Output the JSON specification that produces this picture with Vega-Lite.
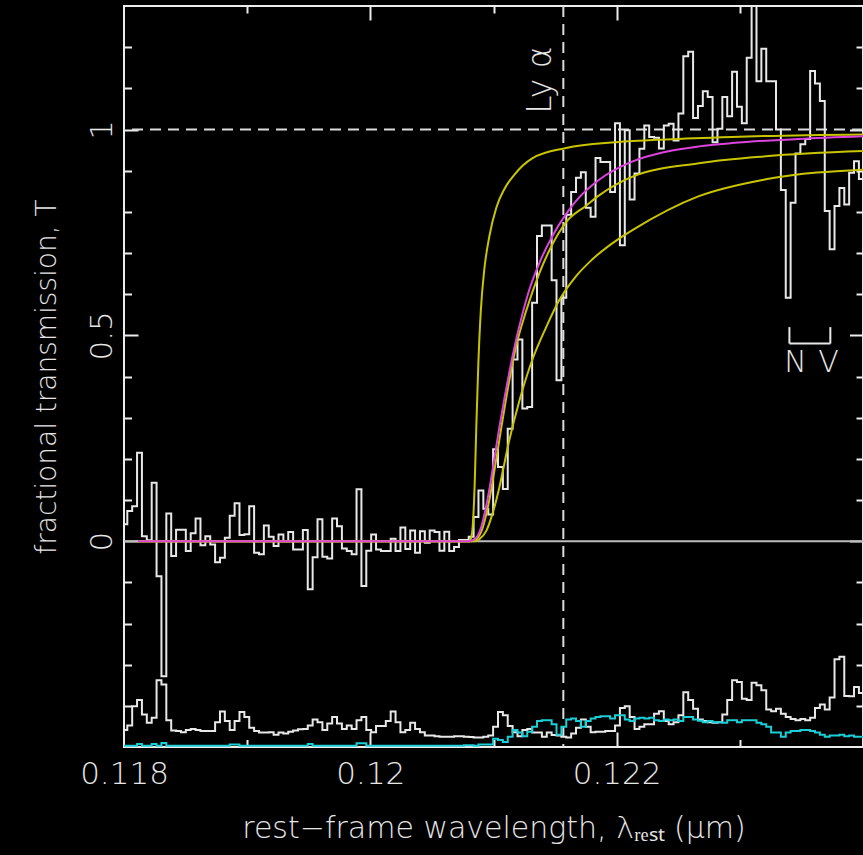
{
  "$schema": "https://vega.github.io/schema/vega-lite/v6.json",
  "width": 739,
  "height": 741,
  "autosize": {"type": "none"},
  "padding": {"left": 124, "top": 6, "right": 0, "bottom": 108},
  "background": "#000000",
  "config": {
    "view": {"stroke": "#ececec", "strokeWidth": 2},
    "axis": {
      "domain": false, "grid": false,
      "labelFont": "DejaVu Sans", "labelFontSize": 31, "labelFontWeight": 200, "labelColor": "#e6e6e6",
      "titleFont": "DejaVu Sans", "titleFontSize": 28, "titleFontWeight": 200, "titleColor": "#e6e6e6",
      "tickColor": "#ececec", "tickWidth": 2,
      "labelFlush": false, "labelOverlap": false, "labelBound": false
    },
    "text": {"font": "DejaVu Sans", "fontWeight": 200}
  },
  "datasets": {
    "spectrum": [
      {"lam": 0.1179674, "T": 0.041, "noise": -0.459, "sky": -0.497},
      {"lam": 0.1180070, "T": 0.041, "noise": -0.459, "sky": -0.497},
      {"lam": 0.1180466, "T": 0.073, "noise": -0.448, "sky": -0.497},
      {"lam": 0.1180862, "T": 0.085, "noise": -0.401, "sky": -0.497},
      {"lam": 0.1181258, "T": 0.215, "noise": -0.386, "sky": -0.493},
      {"lam": 0.1181654, "T": 0.012, "noise": -0.421, "sky": -0.497},
      {"lam": 0.1182050, "T": 0.002, "noise": -0.441, "sky": -0.497},
      {"lam": 0.1182446, "T": 0.142, "noise": -0.429, "sky": -0.493},
      {"lam": 0.1182842, "T": -0.085, "noise": -0.338, "sky": -0.497},
      {"lam": 0.1183238, "T": -0.328, "noise": -0.348, "sky": -0.490},
      {"lam": 0.1183634, "T": 0.067, "noise": -0.435, "sky": -0.497},
      {"lam": 0.1184030, "T": -0.036, "noise": -0.460, "sky": -0.497},
      {"lam": 0.1184426, "T": 0.028, "noise": -0.461, "sky": -0.497},
      {"lam": 0.1184822, "T": 0.028, "noise": -0.464, "sky": -0.497},
      {"lam": 0.1185218, "T": -0.024, "noise": -0.459, "sky": -0.497},
      {"lam": 0.1185614, "T": 0.019, "noise": -0.456, "sky": -0.497},
      {"lam": 0.1186010, "T": 0.055, "noise": -0.459, "sky": -0.497},
      {"lam": 0.1186406, "T": -0.010, "noise": -0.461, "sky": -0.497},
      {"lam": 0.1186802, "T": 0.012, "noise": -0.461, "sky": -0.497},
      {"lam": 0.1187198, "T": -0.008, "noise": -0.461, "sky": -0.497},
      {"lam": 0.1187594, "T": -0.051, "noise": -0.440, "sky": -0.497},
      {"lam": 0.1187990, "T": -0.040, "noise": -0.414, "sky": -0.497},
      {"lam": 0.1188386, "T": 0.008, "noise": -0.437, "sky": -0.497},
      {"lam": 0.1188782, "T": 0.062, "noise": -0.459, "sky": -0.494},
      {"lam": 0.1189178, "T": 0.092, "noise": -0.437, "sky": -0.494},
      {"lam": 0.1189574, "T": 0.015, "noise": -0.415, "sky": -0.497},
      {"lam": 0.1189970, "T": 0.017, "noise": -0.427, "sky": -0.497},
      {"lam": 0.1190366, "T": 0.085, "noise": -0.453, "sky": -0.497},
      {"lam": 0.1190762, "T": -0.028, "noise": -0.461, "sky": -0.497},
      {"lam": 0.1191158, "T": -0.032, "noise": -0.465, "sky": -0.497},
      {"lam": 0.1191554, "T": 0.038, "noise": -0.465, "sky": -0.497},
      {"lam": 0.1191950, "T": 0.011, "noise": -0.464, "sky": -0.497},
      {"lam": 0.1192346, "T": -0.012, "noise": -0.470, "sky": -0.497},
      {"lam": 0.1192742, "T": 0.016, "noise": -0.465, "sky": -0.497},
      {"lam": 0.1193138, "T": 0.000, "noise": -0.467, "sky": -0.497},
      {"lam": 0.1193534, "T": 0.022, "noise": -0.463, "sky": -0.497},
      {"lam": 0.1193930, "T": -0.020, "noise": -0.460, "sky": -0.497},
      {"lam": 0.1194326, "T": -0.020, "noise": -0.457, "sky": -0.497},
      {"lam": 0.1194722, "T": 0.027, "noise": -0.456, "sky": -0.497},
      {"lam": 0.1195118, "T": -0.117, "noise": -0.448, "sky": -0.493},
      {"lam": 0.1195514, "T": -0.039, "noise": -0.433, "sky": -0.497},
      {"lam": 0.1195910, "T": 0.053, "noise": -0.440, "sky": -0.497},
      {"lam": 0.1196306, "T": -0.038, "noise": -0.459, "sky": -0.497},
      {"lam": 0.1196702, "T": -0.042, "noise": -0.443, "sky": -0.497},
      {"lam": 0.1197098, "T": 0.055, "noise": -0.427, "sky": -0.497},
      {"lam": 0.1197494, "T": 0.036, "noise": -0.443, "sky": -0.497},
      {"lam": 0.1197890, "T": -0.018, "noise": -0.456, "sky": -0.497},
      {"lam": 0.1198286, "T": -0.024, "noise": -0.448, "sky": -0.497},
      {"lam": 0.1198682, "T": -0.032, "noise": -0.456, "sky": -0.497},
      {"lam": 0.1199078, "T": 0.126, "noise": -0.435, "sky": -0.491},
      {"lam": 0.1199474, "T": -0.109, "noise": -0.427, "sky": -0.491},
      {"lam": 0.1199870, "T": -0.023, "noise": -0.459, "sky": -0.497},
      {"lam": 0.1200266, "T": 0.016, "noise": -0.464, "sky": -0.497},
      {"lam": 0.1200662, "T": -0.020, "noise": -0.449, "sky": -0.497},
      {"lam": 0.1201058, "T": -0.024, "noise": -0.449, "sky": -0.497},
      {"lam": 0.1201454, "T": -0.024, "noise": -0.437, "sky": -0.497},
      {"lam": 0.1201850, "T": 0.006, "noise": -0.414, "sky": -0.497},
      {"lam": 0.1202246, "T": -0.024, "noise": -0.440, "sky": -0.497},
      {"lam": 0.1202642, "T": 0.033, "noise": -0.464, "sky": -0.497},
      {"lam": 0.1203038, "T": -0.019, "noise": -0.459, "sky": -0.497},
      {"lam": 0.1203434, "T": 0.026, "noise": -0.441, "sky": -0.497},
      {"lam": 0.1203830, "T": -0.028, "noise": -0.456, "sky": -0.497},
      {"lam": 0.1204226, "T": 0.024, "noise": -0.464, "sky": -0.497},
      {"lam": 0.1204622, "T": -0.004, "noise": -0.472, "sky": -0.497},
      {"lam": 0.1205018, "T": 0.026, "noise": -0.472, "sky": -0.497},
      {"lam": 0.1205414, "T": 0.022, "noise": -0.474, "sky": -0.497},
      {"lam": 0.1205810, "T": -0.023, "noise": -0.475, "sky": -0.497},
      {"lam": 0.1206206, "T": 0.023, "noise": -0.475, "sky": -0.497},
      {"lam": 0.1206602, "T": -0.024, "noise": -0.475, "sky": -0.497},
      {"lam": 0.1206998, "T": -0.014, "noise": -0.474, "sky": -0.497},
      {"lam": 0.1207394, "T": 0.003, "noise": -0.474, "sky": -0.497},
      {"lam": 0.1207790, "T": 0.003, "noise": -0.475, "sky": -0.496},
      {"lam": 0.1208186, "T": 0.011, "noise": -0.476, "sky": -0.496},
      {"lam": 0.1208582, "T": 0.059, "noise": -0.477, "sky": -0.497},
      {"lam": 0.1208978, "T": 0.123, "noise": -0.477, "sky": -0.494},
      {"lam": 0.1209374, "T": 0.079, "noise": -0.475, "sky": -0.494},
      {"lam": 0.1209770, "T": 0.065, "noise": -0.472, "sky": -0.494},
      {"lam": 0.1210166, "T": 0.223, "noise": -0.451, "sky": -0.480},
      {"lam": 0.1210562, "T": 0.180, "noise": -0.415, "sky": -0.483},
      {"lam": 0.1210958, "T": 0.127, "noise": -0.423, "sky": -0.488},
      {"lam": 0.1211354, "T": 0.273, "noise": -0.449, "sky": -0.475},
      {"lam": 0.1211750, "T": 0.441, "noise": -0.464, "sky": -0.459},
      {"lam": 0.1212146, "T": 0.490, "noise": -0.474, "sky": -0.465},
      {"lam": 0.1212542, "T": 0.322, "noise": -0.459, "sky": -0.474},
      {"lam": 0.1212938, "T": 0.326, "noise": -0.456, "sky": -0.463},
      {"lam": 0.1213334, "T": 0.579, "noise": -0.465, "sky": -0.451},
      {"lam": 0.1213730, "T": 0.741, "noise": -0.465, "sky": -0.437},
      {"lam": 0.1214126, "T": 0.767, "noise": -0.475, "sky": -0.435},
      {"lam": 0.1214522, "T": 0.767, "noise": -0.465, "sky": -0.435},
      {"lam": 0.1214918, "T": 0.634, "noise": -0.471, "sky": -0.445},
      {"lam": 0.1215314, "T": 0.391, "noise": -0.472, "sky": -0.470},
      {"lam": 0.1215710, "T": 0.591, "noise": -0.475, "sky": -0.451},
      {"lam": 0.1216106, "T": 0.793, "noise": -0.477, "sky": -0.433},
      {"lam": 0.1216502, "T": 0.848, "noise": -0.467, "sky": -0.431},
      {"lam": 0.1216898, "T": 0.883, "noise": -0.453, "sky": -0.437},
      {"lam": 0.1217294, "T": 0.896, "noise": -0.433, "sky": -0.451},
      {"lam": 0.1217690, "T": 0.810, "noise": -0.451, "sky": -0.437},
      {"lam": 0.1218086, "T": 0.788, "noise": -0.464, "sky": -0.431},
      {"lam": 0.1218482, "T": 0.931, "noise": -0.463, "sky": -0.427},
      {"lam": 0.1218878, "T": 0.921, "noise": -0.463, "sky": -0.425},
      {"lam": 0.1219274, "T": 0.921, "noise": -0.461, "sky": -0.425},
      {"lam": 0.1219670, "T": 0.848, "noise": -0.461, "sky": -0.431},
      {"lam": 0.1220066, "T": 1.015, "noise": -0.448, "sky": -0.423},
      {"lam": 0.1220462, "T": 0.719, "noise": -0.405, "sky": -0.423},
      {"lam": 0.1220858, "T": 0.998, "noise": -0.401, "sky": -0.433},
      {"lam": 0.1221254, "T": 0.830, "noise": -0.427, "sky": -0.437},
      {"lam": 0.1221650, "T": 0.893, "noise": -0.456, "sky": -0.431},
      {"lam": 0.1222046, "T": 0.953, "noise": -0.451, "sky": -0.429},
      {"lam": 0.1222442, "T": 1.010, "noise": -0.445, "sky": -0.431},
      {"lam": 0.1222838, "T": 0.982, "noise": -0.445, "sky": -0.429},
      {"lam": 0.1223234, "T": 0.980, "noise": -0.419, "sky": -0.435},
      {"lam": 0.1223630, "T": 0.954, "noise": -0.413, "sky": -0.437},
      {"lam": 0.1224026, "T": 1.010, "noise": -0.437, "sky": -0.433},
      {"lam": 0.1224422, "T": 1.014, "noise": -0.445, "sky": -0.435},
      {"lam": 0.1224818, "T": 0.973, "noise": -0.440, "sky": -0.433},
      {"lam": 0.1225214, "T": 1.039, "noise": -0.423, "sky": -0.437},
      {"lam": 0.1225610, "T": 1.178, "noise": -0.367, "sky": -0.427},
      {"lam": 0.1226006, "T": 1.189, "noise": -0.386, "sky": -0.427},
      {"lam": 0.1226402, "T": 1.028, "noise": -0.407, "sky": -0.433},
      {"lam": 0.1226798, "T": 1.057, "noise": -0.433, "sky": -0.436},
      {"lam": 0.1227194, "T": 1.093, "noise": -0.437, "sky": -0.440},
      {"lam": 0.1227590, "T": 1.079, "noise": -0.440, "sky": -0.437},
      {"lam": 0.1227986, "T": 0.969, "noise": -0.441, "sky": -0.440},
      {"lam": 0.1228382, "T": 1.002, "noise": -0.440, "sky": -0.440},
      {"lam": 0.1228778, "T": 1.079, "noise": -0.421, "sky": -0.441},
      {"lam": 0.1229174, "T": 1.032, "noise": -0.386, "sky": -0.435},
      {"lam": 0.1229570, "T": 1.140, "noise": -0.338, "sky": -0.435},
      {"lam": 0.1229966, "T": 1.055, "noise": -0.342, "sky": -0.440},
      {"lam": 0.1230362, "T": 1.015, "noise": -0.383, "sky": -0.435},
      {"lam": 0.1230758, "T": 1.174, "noise": -0.386, "sky": -0.435},
      {"lam": 0.1231154, "T": 1.450, "noise": -0.344, "sky": -0.435},
      {"lam": 0.1231550, "T": 1.117, "noise": -0.350, "sky": -0.441},
      {"lam": 0.1231946, "T": 1.196, "noise": -0.362, "sky": -0.445},
      {"lam": 0.1232342, "T": 1.117, "noise": -0.409, "sky": -0.451},
      {"lam": 0.1232738, "T": 1.117, "noise": -0.413, "sky": -0.465},
      {"lam": 0.1233134, "T": 1.000, "noise": -0.407, "sky": -0.465},
      {"lam": 0.1233530, "T": 0.853, "noise": -0.419, "sky": -0.475},
      {"lam": 0.1233926, "T": 0.591, "noise": -0.427, "sky": -0.465},
      {"lam": 0.1234322, "T": 0.822, "noise": -0.432, "sky": -0.461},
      {"lam": 0.1234718, "T": 0.942, "noise": -0.435, "sky": -0.461},
      {"lam": 0.1235114, "T": 0.964, "noise": -0.432, "sky": -0.459},
      {"lam": 0.1235510, "T": 0.977, "noise": -0.435, "sky": -0.459},
      {"lam": 0.1235906, "T": 1.142, "noise": -0.429, "sky": -0.461},
      {"lam": 0.1236302, "T": 1.112, "noise": -0.405, "sky": -0.465},
      {"lam": 0.1236698, "T": 1.069, "noise": -0.397, "sky": -0.470},
      {"lam": 0.1237094, "T": 0.802, "noise": -0.409, "sky": -0.475},
      {"lam": 0.1237490, "T": 0.709, "noise": -0.380, "sky": -0.472},
      {"lam": 0.1237886, "T": 0.814, "noise": -0.287, "sky": -0.472},
      {"lam": 0.1238282, "T": 0.858, "noise": -0.281, "sky": -0.470},
      {"lam": 0.1238678, "T": 0.818, "noise": -0.376, "sky": -0.474},
      {"lam": 0.1239074, "T": 0.895, "noise": -0.377, "sky": -0.472},
      {"lam": 0.1239470, "T": 0.923, "noise": -0.354, "sky": -0.475},
      {"lam": 0.1239866, "T": 0.880, "noise": -0.369, "sky": -0.475},
      {"lam": 0.1240262, "T": 0.880, "noise": -0.369, "sky": -0.475}
    ],
    "models": [
      {"curve": "fit", "lam": 0.1181135, "T": 0},
      {"curve": "fit", "lam": 0.1208039, "T": 0},
      {"curve": "fit", "lam": 0.1208363, "T": 0.003},
      {"curve": "fit", "lam": 0.1208687, "T": 0.012},
      {"curve": "fit", "lam": 0.1209011, "T": 0.035},
      {"curve": "fit", "lam": 0.1209335, "T": 0.075},
      {"curve": "fit", "lam": 0.1209660, "T": 0.125},
      {"curve": "fit", "lam": 0.1210065, "T": 0.200},
      {"curve": "fit", "lam": 0.1210470, "T": 0.275},
      {"curve": "fit", "lam": 0.1210875, "T": 0.345},
      {"curve": "fit", "lam": 0.1211280, "T": 0.410},
      {"curve": "fit", "lam": 0.1211767, "T": 0.480},
      {"curve": "fit", "lam": 0.1212334, "T": 0.550},
      {"curve": "fit", "lam": 0.1212901, "T": 0.610},
      {"curve": "fit", "lam": 0.1213711, "T": 0.675},
      {"curve": "fit", "lam": 0.1214765, "T": 0.740},
      {"curve": "fit", "lam": 0.1215899, "T": 0.795},
      {"curve": "fit", "lam": 0.1216953, "T": 0.835},
      {"curve": "fit", "lam": 0.1218574, "T": 0.878},
      {"curve": "fit", "lam": 0.1221248, "T": 0.922},
      {"curve": "fit", "lam": 0.1224003, "T": 0.946},
      {"curve": "fit", "lam": 0.1226677, "T": 0.959},
      {"curve": "fit", "lam": 0.1229352, "T": 0.967},
      {"curve": "fit", "lam": 0.1234781, "T": 0.977},
      {"curve": "fit", "lam": 0.1240454, "T": 0.984},
      {"curve": "alt1", "lam": 0.1181135, "T": 0},
      {"curve": "alt1", "lam": 0.1208039, "T": 0},
      {"curve": "alt1", "lam": 0.1208201, "T": 0.01},
      {"curve": "alt1", "lam": 0.1208363, "T": 0.06},
      {"curve": "alt1", "lam": 0.1208485, "T": 0.15},
      {"curve": "alt1", "lam": 0.1208606, "T": 0.28},
      {"curve": "alt1", "lam": 0.1208768, "T": 0.43},
      {"curve": "alt1", "lam": 0.1208971, "T": 0.56},
      {"curve": "alt1", "lam": 0.1209254, "T": 0.66},
      {"curve": "alt1", "lam": 0.1209660, "T": 0.74},
      {"curve": "alt1", "lam": 0.1210227, "T": 0.81},
      {"curve": "alt1", "lam": 0.1210875, "T": 0.855},
      {"curve": "alt1", "lam": 0.1211685, "T": 0.89},
      {"curve": "alt1", "lam": 0.1213144, "T": 0.93},
      {"curve": "alt1", "lam": 0.1215899, "T": 0.955},
      {"curve": "alt1", "lam": 0.1219951, "T": 0.969},
      {"curve": "alt1", "lam": 0.1224003, "T": 0.976},
      {"curve": "alt1", "lam": 0.1229352, "T": 0.982},
      {"curve": "alt1", "lam": 0.1240454, "T": 0.988},
      {"curve": "alt2", "lam": 0.1181135, "T": 0},
      {"curve": "alt2", "lam": 0.1208201, "T": 0},
      {"curve": "alt2", "lam": 0.1208606, "T": 0.005},
      {"curve": "alt2", "lam": 0.1209092, "T": 0.03},
      {"curve": "alt2", "lam": 0.1209660, "T": 0.10},
      {"curve": "alt2", "lam": 0.1210227, "T": 0.20},
      {"curve": "alt2", "lam": 0.1210713, "T": 0.29},
      {"curve": "alt2", "lam": 0.1211280, "T": 0.39},
      {"curve": "alt2", "lam": 0.1211848, "T": 0.475},
      {"curve": "alt2", "lam": 0.1212658, "T": 0.56},
      {"curve": "alt2", "lam": 0.1213711, "T": 0.65},
      {"curve": "alt2", "lam": 0.1214765, "T": 0.72},
      {"curve": "alt2", "lam": 0.1215899, "T": 0.775},
      {"curve": "alt2", "lam": 0.1217520, "T": 0.815},
      {"curve": "alt2", "lam": 0.1218574, "T": 0.840},
      {"curve": "alt2", "lam": 0.1221248, "T": 0.885},
      {"curve": "alt2", "lam": 0.1226677, "T": 0.918},
      {"curve": "alt2", "lam": 0.1232107, "T": 0.935},
      {"curve": "alt2", "lam": 0.1240454, "T": 0.948},
      {"curve": "alt3", "lam": 0.1181135, "T": 0},
      {"curve": "alt3", "lam": 0.1208525, "T": 0},
      {"curve": "alt3", "lam": 0.1208849, "T": 0.005},
      {"curve": "alt3", "lam": 0.1209416, "T": 0.025},
      {"curve": "alt3", "lam": 0.1209903, "T": 0.065},
      {"curve": "alt3", "lam": 0.1210470, "T": 0.13},
      {"curve": "alt3", "lam": 0.1211280, "T": 0.245},
      {"curve": "alt3", "lam": 0.1212091, "T": 0.34},
      {"curve": "alt3", "lam": 0.1213144, "T": 0.44},
      {"curve": "alt3", "lam": 0.1214279, "T": 0.52},
      {"curve": "alt3", "lam": 0.1215332, "T": 0.585},
      {"curve": "alt3", "lam": 0.1216710, "T": 0.644},
      {"curve": "alt3", "lam": 0.1218006, "T": 0.684},
      {"curve": "alt3", "lam": 0.1220194, "T": 0.735},
      {"curve": "alt3", "lam": 0.1221248, "T": 0.755},
      {"curve": "alt3", "lam": 0.1226677, "T": 0.838},
      {"curve": "alt3", "lam": 0.1232107, "T": 0.879},
      {"curve": "alt3", "lam": 0.1240454, "T": 0.903}
    ]
  },
  "layer": [
    {
      "data": {"values": [{"T": 0}]},
      "mark": {"type": "rule", "color": "#bdbdbd", "strokeWidth": 2},
      "encoding": {"y": {"field": "T", "type": "quantitative", "scale": {"domain": [-0.5, 1.3], "nice": false, "zero": false}, "axis": null}}
    },
    {
      "data": {"values": [{"T": 1}]},
      "mark": {"type": "rule", "color": "#dcdcdc", "strokeWidth": 2, "strokeDash": [11, 7]},
      "encoding": {"y": {"field": "T", "type": "quantitative", "scale": {"domain": [-0.5, 1.3], "nice": false, "zero": false}, "axis": null}}
    },
    {
      "data": {"values": [{"lam": 0.121567, "line": "Ly α"}]},
      "mark": {"type": "rule", "color": "#dcdcdc", "strokeWidth": 2, "strokeDash": [11, 7]},
      "encoding": {"x": {"field": "lam", "type": "quantitative", "scale": {"domain": [0.118, 0.124], "nice": false, "zero": false}, "axis": null}}
    },
    {
      "data": {"name": "spectrum"},
      "mark": {"type": "line", "interpolate": "step", "clip": true, "color": "#e8e8e8", "strokeWidth": 2},
      "encoding": {
        "x": {"field": "lam", "type": "quantitative", "scale": {"domain": [0.118, 0.124], "nice": false, "zero": false},
          "axis": {"orient": "bottom", "values": [0.118, 0.12, 0.122], "ticks": false, "tickSize": 0, "labelPadding": 12,
            "labelExpr": "format(datum.value, '.3~f')", "title": "rest−frame wavelength, λᵣₑₛₜ (μm)", "titleFontSize": 30, "titlePadding": 24}},
        "y": {"field": "T", "type": "quantitative", "scale": {"domain": [-0.5, 1.3], "nice": false, "zero": false},
          "axis": {"orient": "left", "values": [0, 0.5, 1], "ticks": false, "tickSize": 0, "labelAngle": -90, "labelAlign": "center",
            "labelBaseline": "alphabetic", "labelPadding": 13, "labelExpr": "format(datum.value, '~g')",
            "title": "fractional transmission, T", "titlePadding": 25}}
      }
    },
    {
      "data": {"name": "spectrum"},
      "mark": {"type": "line", "interpolate": "step", "clip": true, "color": "#e8e8e8", "strokeWidth": 2},
      "encoding": {
        "x": {"field": "lam", "type": "quantitative", "scale": {"domain": [0.118, 0.124], "nice": false, "zero": false},
          "axis": {"orient": "bottom", "values": [0.12, 0.122, 0.124], "labels": false, "tickSize": -15, "title": null}},
        "y": {"field": "noise", "type": "quantitative", "scale": {"domain": [-0.5, 1.3], "nice": false, "zero": false},
          "axis": {"orient": "left", "values": [0, 0.5, 1], "labels": false, "tickSize": -14, "title": null}}
      }
    },
    {
      "data": {"name": "spectrum"},
      "mark": {"type": "line", "interpolate": "step", "clip": true, "color": "#1ccfd6", "strokeWidth": 2},
      "encoding": {
        "x": {"field": "lam", "type": "quantitative", "scale": {"domain": [0.118, 0.124], "nice": false, "zero": false},
          "axis": {"orient": "bottom", "values": [0.119, 0.121, 0.123], "labels": false, "tickSize": -7.5, "title": null}},
        "y": {"field": "sky", "type": "quantitative", "scale": {"domain": [-0.5, 1.3], "nice": false, "zero": false},
          "axis": {"orient": "left", "values": [-0.4, -0.3, -0.2, -0.1, 0.1, 0.2, 0.3, 0.4, 0.6, 0.7, 0.8, 0.9, 1.1, 1.2], "labels": false, "tickSize": -7.5, "title": null}}
      }
    },
    {
      "data": {"name": "models"},
      "transform": [{"filter": "datum.curve != 'fit'"}],
      "mark": {"type": "line", "interpolate": "monotone", "clip": true, "color": "#c9c400", "strokeWidth": 2},
      "encoding": {
        "detail": {"field": "curve"},
        "x": {"field": "lam", "type": "quantitative", "scale": {"domain": [0.118, 0.124], "nice": false, "zero": false},
          "axis": {"orient": "top", "values": [0.12, 0.122, 0.124], "labels": false, "tickSize": -14, "title": null}},
        "y": {"field": "T", "type": "quantitative", "scale": {"domain": [-0.5, 1.3], "nice": false, "zero": false},
          "axis": {"orient": "right", "values": [0, 0.5, 1], "labels": false, "tickSize": -13.5, "title": null}}
      }
    },
    {
      "data": {"name": "models"},
      "transform": [{"filter": "datum.curve == 'fit'"}],
      "mark": {"type": "line", "interpolate": "monotone", "clip": true, "color": "#dd44dd", "strokeWidth": 2},
      "encoding": {
        "x": {"field": "lam", "type": "quantitative", "scale": {"domain": [0.118, 0.124], "nice": false, "zero": false},
          "axis": {"orient": "top", "values": [0.119, 0.121, 0.123], "labels": false, "tickSize": -7, "title": null}},
        "y": {"field": "T", "type": "quantitative", "scale": {"domain": [-0.5, 1.3], "nice": false, "zero": false},
          "axis": {"orient": "right", "values": [-0.4, -0.3, -0.2, -0.1, 0.1, 0.2, 0.3, 0.4, 0.6, 0.7, 0.8, 0.9, 1.1, 1.2], "labels": false, "tickSize": -7, "title": null}}
      }
    },
    {
      "data": {"values": [
        {"lam": 0.1234025, "lam2": 0.1234025, "T": 0.52, "T2": 0.48},
        {"lam": 0.1237348, "lam2": 0.1237348, "T": 0.52, "T2": 0.48},
        {"lam": 0.1234025, "lam2": 0.1237348, "T": 0.48, "T2": 0.48}
      ]},
      "mark": {"type": "rule", "color": "#e8e8e8", "strokeWidth": 2},
      "encoding": {
        "x": {"field": "lam", "type": "quantitative", "scale": {"domain": [0.118, 0.124], "nice": false, "zero": false}, "axis": null},
        "x2": {"field": "lam2"},
        "y": {"field": "T", "type": "quantitative", "scale": {"domain": [-0.5, 1.3], "nice": false, "zero": false}, "axis": null},
        "y2": {"field": "T2"}
      }
    },
    {
      "data": {"values": [{"lam": 0.123451, "T": 0.433, "label": "N"}, {"lam": 0.123721, "T": 0.433, "label": "V"}]},
      "mark": {"type": "text", "fontSize": 30, "color": "#e6e6e6", "align": "center", "baseline": "middle"},
      "encoding": {
        "x": {"field": "lam", "type": "quantitative", "scale": {"domain": [0.118, 0.124], "nice": false, "zero": false}, "axis": null},
        "y": {"field": "T", "type": "quantitative", "scale": {"domain": [-0.5, 1.3], "nice": false, "zero": false}, "axis": null},
        "text": {"field": "label"}
      }
    },
    {
      "data": {"values": [{"lam": 0.121567, "T": 1.12, "label": "Ly α"}]},
      "mark": {"type": "text", "fontSize": 33, "color": "#e6e6e6", "align": "center", "baseline": "alphabetic", "angle": 270, "dy": -12},
      "encoding": {
        "x": {"field": "lam", "type": "quantitative", "scale": {"domain": [0.118, 0.124], "nice": false, "zero": false}, "axis": null},
        "y": {"field": "T", "type": "quantitative", "scale": {"domain": [-0.5, 1.3], "nice": false, "zero": false}, "axis": null},
        "text": {"field": "label"}
      }
    }
  ],
  "resolve": {"axis": {"x": "independent", "y": "independent"}}
}
